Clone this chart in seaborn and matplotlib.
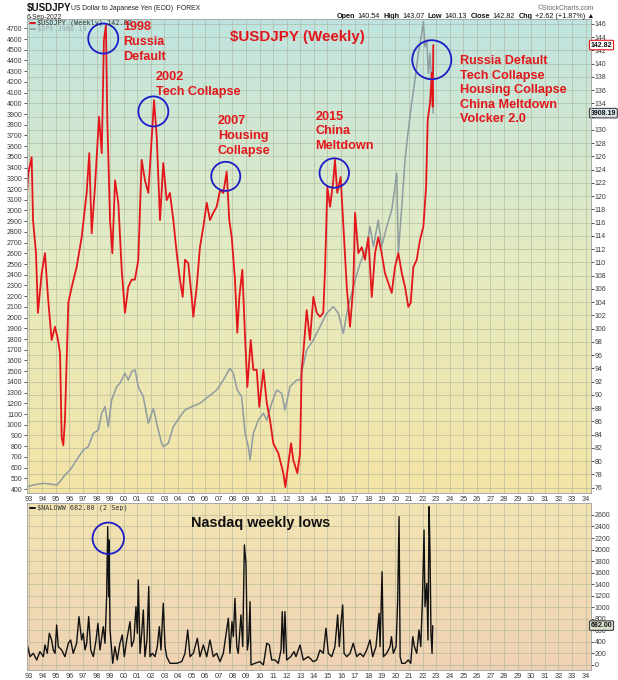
import numpy as np
import pandas as pd
import seaborn as sns
import matplotlib.pyplot as plt
import matplotlib.transforms as mtransforms
from matplotlib.lines import Line2D
from matplotlib.colors import LinearSegmentedColormap

# $USDJPY weekly close (decimal year, yen)
jpy_year = [
    1992.85, 1992.97, 1993.22, 1993.32, 1993.54, 1993.68, 1993.96, 1994.20, 1994.42, 1994.69,
    1994.94, 1995.16, 1995.31, 1995.43, 1995.55, 1995.67, 1995.92, 1996.17, 1996.53, 1996.90,
    1997.27, 1997.46, 1997.64, 1997.88, 1998.18, 1998.38, 1998.54, 1998.69, 1998.79, 1998.99,
    1999.16, 1999.36, 1999.60, 1999.85, 2000.09, 2000.33, 2000.58, 2000.82, 2001.07, 2001.32,
    2001.56, 2001.81, 2002.06, 2002.23, 2002.43, 2002.67, 2002.91, 2003.16, 2003.40, 2003.65,
    2003.90, 2004.14, 2004.34, 2004.51, 2004.75, 2005.00, 2005.12, 2005.37, 2005.61, 2005.86,
    2006.11, 2006.35, 2006.59, 2006.84, 2007.09, 2007.33, 2007.58, 2007.77, 2007.95, 2008.19,
    2008.36, 2008.51, 2008.73, 2008.93, 2009.10, 2009.35, 2009.54, 2009.79, 2009.98, 2010.28,
    2010.53, 2010.77, 2011.01, 2011.38, 2011.75, 2011.90, 2012.12, 2012.32, 2012.48, 2012.78,
    2012.98, 2013.10, 2013.22, 2013.47, 2013.71, 2013.96, 2014.21, 2014.45, 2014.69, 2014.82,
    2014.99, 2015.19, 2015.43, 2015.55, 2015.72, 2015.97, 2016.17, 2016.42, 2016.66, 2016.90,
    2017.03, 2017.27, 2017.52, 2017.76, 2018.01, 2018.26, 2018.50, 2018.74, 2018.99, 2019.23,
    2019.48, 2019.73, 2019.97, 2020.22, 2020.47, 2020.71, 2020.95, 2021.13, 2021.32, 2021.57,
    2021.81, 2022.06, 2022.26, 2022.38, 2022.55, 2022.68, 2022.75, 2022.79,
]
jpy_value = [
    119.4, 123.5, 125.9, 116.4, 111.4, 102.4, 108.4, 111.4, 104.8, 98.3,
    100.3, 98.3, 96.3, 83.6, 82.4, 86.2, 103.9, 106.3, 109.3, 113.8,
    120.5, 126.5, 114.4, 121.4, 132.0, 126.5, 143.6, 145.8, 131.5, 116.4,
    111.4, 122.4, 119.0, 108.9, 102.4, 106.3, 107.4, 107.4, 110.4, 125.5,
    122.4, 120.5, 128.9, 134.5, 128.9, 116.4, 125.0, 119.4, 120.5, 116.4,
    111.4, 107.4, 104.8, 110.4, 109.9, 104.8, 101.8, 106.3, 112.3, 115.4,
    119.0, 116.4, 117.5, 118.4, 120.9, 120.5, 123.7, 116.4, 113.8, 107.4,
    99.4, 104.8, 108.9, 98.8, 91.2, 98.3, 93.8, 93.8, 88.2, 93.8,
    88.8, 86.2, 82.7, 81.2, 78.2, 76.1, 79.7, 82.7, 80.2, 78.2,
    81.2, 93.8, 96.3, 102.8, 98.3, 104.8, 102.4, 101.8, 102.4, 108.9,
    121.4, 118.4, 122.4, 125.5, 120.5, 122.9, 115.4, 106.3, 100.3, 106.3,
    117.5, 111.4, 112.3, 110.4, 113.8, 104.8, 111.4, 113.8, 111.4, 108.4,
    106.9, 105.4, 109.3, 111.4, 108.4, 106.3, 103.3, 103.9, 109.3, 110.4,
    113.4, 115.4, 121.4, 131.5, 134.1, 138.6, 133.5, 142.82,
]

# $SPX (left axis)
spx_year = [
    1992.85, 1993.32, 1994.05, 1994.57, 1995.06, 1995.30, 1995.67, 1996.04, 1996.53, 1997.02,
    1997.39, 1997.76, 1998.13, 1998.38, 1998.62, 1998.86, 1999.11, 1999.48, 1999.72, 2000.09,
    2000.33, 2000.58, 2000.83, 2001.07, 2001.44, 2001.81, 2002.18, 2002.54, 2002.79, 2002.91,
    2003.28, 2003.65, 2004.14, 2004.51, 2005.00, 2005.61, 2006.23, 2006.84, 2007.33, 2007.82,
    2008.07, 2008.36, 2008.68, 2008.93, 2009.17, 2009.30, 2009.54, 2009.91, 2010.28, 2010.53,
    2010.89, 2011.26, 2011.63, 2011.87, 2012.24, 2012.73, 2012.98, 2013.47, 2013.96, 2014.45,
    2014.94, 2015.43, 2015.80, 2016.17, 2016.42, 2016.90, 2017.40, 2017.89, 2018.13, 2018.38,
    2018.74, 2018.99, 2019.36, 2019.73, 2020.10, 2020.22, 2020.47, 2020.71, 2020.95, 2021.20,
    2021.44, 2021.69, 2021.94, 2022.06, 2022.18, 2022.31, 2022.43, 2022.55, 2022.68, 2022.79,
]
spx_value = [
    420, 437, 453, 447, 437, 468, 531, 577, 671, 764,
    795, 920, 951, 1107, 1168, 982, 1231, 1355, 1387, 1480,
    1417, 1495, 1511, 1355, 1262, 1013, 1153, 951, 827, 795,
    827, 982, 1075, 1137, 1168, 1200, 1262, 1324, 1417, 1527,
    1480, 1324, 1262, 920, 795, 671, 920, 1044, 1107, 1044,
    1200, 1324, 1293, 1137, 1355, 1417, 1417, 1697, 1791, 1915,
    2040, 2102, 2040, 1853, 2040, 2288, 2507, 2662, 2849, 2662,
    2911, 2662, 2849, 3004, 3347, 2600, 3035, 3471, 3751, 4000,
    4218, 4467, 4653, 4762, 4528, 4591, 4280, 4467, 4155, 3908.19,
]

# $NALOWW - Nasdaq new weekly lows (lower panel)
nalow_year = [
    1992.90, 1993.10, 1993.34, 1993.59, 1993.83, 1994.08, 1994.20, 1994.37, 1994.52, 1994.69,
    1994.81, 1994.94, 1995.06, 1995.18, 1995.43, 1995.67, 1995.92, 1996.09, 1996.28, 1996.53,
    1996.70, 1996.90, 1997.02, 1997.15, 1997.27, 1997.42, 1997.57, 1997.76, 1997.96, 1998.10,
    1998.25, 1998.49, 1998.62, 1998.74, 1998.82, 1998.89, 1998.91, 1998.99, 1999.19, 1999.35,
    1999.52, 1999.72, 1999.89, 2000.04, 2000.22, 2000.46, 2000.58, 2000.75, 2000.90, 2001.00,
    2001.07, 2001.20, 2001.32, 2001.44, 2001.56, 2001.71, 2001.84, 2001.93, 2002.10, 2002.30,
    2002.47, 2002.62, 2002.74, 2002.91, 2003.04, 2003.16, 2003.40, 2003.90, 2004.27, 2004.51,
    2004.71, 2004.88, 2005.12, 2005.42, 2005.61, 2005.86, 2006.11, 2006.35, 2006.59, 2006.84,
    2007.09, 2007.33, 2007.70, 2007.82, 2007.97, 2008.07, 2008.19, 2008.32, 2008.43, 2008.63,
    2008.76, 2008.88, 2009.00, 2009.10, 2009.20, 2009.30, 2009.37, 2009.66, 2010.03, 2010.28,
    2010.53, 2010.72, 2010.89, 2011.14, 2011.38, 2011.58, 2011.67, 2011.78, 2011.87, 2012.00,
    2012.29, 2012.54, 2012.68, 2012.98, 2013.22, 2013.59, 2013.96, 2014.21, 2014.45, 2014.69,
    2014.89, 2015.06, 2015.31, 2015.55, 2015.75, 2015.87, 2015.97, 2016.12, 2016.22, 2016.42,
    2016.66, 2016.90, 2017.15, 2017.40, 2017.64, 2017.89, 2018.13, 2018.33, 2018.57, 2018.80,
    2018.87, 2019.02, 2019.12, 2019.36, 2019.61, 2019.71, 2019.85, 2020.05, 2020.17, 2020.27,
    2020.35, 2020.47, 2020.71, 2020.95, 2021.13, 2021.28, 2021.40, 2021.57, 2021.74, 2021.87,
    2021.99, 2022.11, 2022.18, 2022.31, 2022.40, 2022.48, 2022.55, 2022.62, 2022.70, 2022.75,
]
nalow_value = [
    347, 144, 202, 87, 231, 144, 347, 202, 549, 433,
    260, 202, 693, 318, 260, 144, 376, 433, 202, 376,
    837, 433, 549, 260, 376, 837, 260, 144, 433, 722,
    260, 664, 376, 1184, 2397, 1184, 2166, 607, 29, 318,
    87, 376, 520, 144, 433, 751, 318, 433, 1011, 549,
    1473, 202, 549, 953, 144, 433, 1357, 144, 202, 144,
    318, 664, 260, 1069, 318, 144, 29, 29, 58, 202,
    607, 144, 202, 462, 144, 347, 144, 433, 144, 202,
    58, 202, 809, 202, 751, 491, 1156, 318, 202, 867,
    318, 2080, 1762, 260, 433, 1097, 0, 29, 58, 0,
    376, 347, 87, 87, 29, 260, 924, 202, 924, 87,
    144, 231, 144, 347, 87, 144, 58, 87, 260, 202,
    636, 202, 144, 318, 867, 318, 664, 1040, 202, 144,
    202, 376, 144, 202, 144, 260, 433, 144, 318, 895,
    318, 1617, 144, 202, 318, 491, 202, 318, 1127, 2570,
    144, 29, 29, 87, 29, 491, 318, 202, 607, 318,
    1127, 2340, 1011, 1416, 433, 2743, 1936, 549, 202, 682,
]

years = list(range(1993, 2035))
year_labels = [f"{y % 100:02d}" for y in years]

# blue rings: (year, value, ring diameter in pt)
ring_year = [1998.49, 2002.18, 2007.51, 2015.50, 2022.68]
ring_value = [143.8, 132.8, 123.0, 123.5, 140.6]
ring_size = [21.6, 21.6, 20.9, 21.2, 28.1]
low_ring = (1998.86, 2196, 22.6)

W, H = 618, 680
X0, X1 = 1992.84, 2034.38
SPX_LIM = (362.7, 4786.8)
JPY_LIM = (75.2, 146.75)
NAL_LIM = (-87, 2807)

RED = "#e3161b"
BLUE = "#1c1cc8"
TICK = "#3a3a3a"

sns.set_theme(style="white")
plt.rcParams["font.family"] = ["Liberation Sans", "DejaVu Sans"]


def frac(x, y):
    return x / W, 1 - y / H


def rect(left, top, right, bottom):
    return [left / W, 1 - bottom / H, (right - left) / W, (bottom - top) / H]


fig = plt.figure(figsize=(W / 100, H / 100), dpi=100)
top_box = rect(26.5, 19, 590.7, 493)
bot_box = rect(26.5, 503, 590.7, 670)


def background(box, colors, ylim, yticks):
    bg = fig.add_axes(box, zorder=0)
    cmap = LinearSegmentedColormap.from_list("panel", colors)
    bg.imshow(np.linspace(0, 1, 256).reshape(-1, 1), cmap=cmap, aspect="auto",
              extent=[X0, X1, ylim[0], ylim[1]], origin="upper")
    bg.set_xlim(X0, X1)
    bg.set_ylim(*ylim)
    bg.set_xticks(years)
    bg.set_yticks(yticks)
    bg.grid(True, color="#aeb59c", lw=0.55, alpha=0.75)
    bg.tick_params(length=0, labelbottom=False, labelleft=False)
    for s in bg.spines.values():
        s.set_visible(False)
    return bg


background(top_box, ["#bfe4e0", "#e4ebc2", "#f4e4a6"], JPY_LIM, range(76, 147, 2))
background(bot_box, ["#f3e5b2", "#efd2b4"], NAL_LIM, range(0, 2601, 200))


def style_frame(axis):
    axis.patch.set_visible(False)
    for s in axis.spines.values():
        s.set_color("#a9a9a9")
        s.set_linewidth(0.7)


# --- top panel: SPX on the left, USDJPY on the right
ax = fig.add_axes(top_box, zorder=1)
style_frame(ax)
spx = pd.DataFrame({"year": spx_year, "close": spx_value})
sns.lineplot(data=spx, x="year", y="close", ax=ax, color="#8f9ca0", lw=1.1,
             sort=False, estimator=None)
ax.set_xlim(X0, X1)
ax.set_ylim(*SPX_LIM)
ax.set_yticks(range(400, 4701, 100))
ax.set_xticks(years)
ax.set_xticklabels(year_labels)
ax.set_xlabel("")
ax.set_ylabel("")
ax.tick_params(axis="x", length=0, pad=2, labelsize=5.3, colors=TICK)
ax.tick_params(axis="y", left=True, length=2, width=0.6, pad=1, labelsize=5.0, colors=TICK)

axr = ax.twinx()
axr.set_zorder(2)
style_frame(axr)
jpy = pd.DataFrame({"year": jpy_year, "close": jpy_value})
sns.lineplot(data=jpy, x="year", y="close", ax=axr, color=RED, lw=1.3,
             sort=False, estimator=None)
axr.scatter(ring_year, ring_value, s=np.square(ring_size), facecolors="none",
            edgecolors=BLUE, linewidths=1.3, clip_on=False, zorder=5)
axr.set_xlim(X0, X1)
axr.set_ylim(*JPY_LIM)
jpy_ticks = list(range(76, 147, 2))
axr.set_yticks(jpy_ticks)
# the SPX price tag sits on top of the 132 label, as on the original
axr.set_yticklabels(["" if t == 132 else str(t) for t in jpy_ticks])
axr.set_ylabel("")
axr.tick_params(axis="y", right=True, length=2, width=0.6, pad=1, labelsize=5.0, colors=TICK)

# --- bottom panel: Nasdaq weekly lows
axb = fig.add_axes(bot_box, zorder=1)
style_frame(axb)
nal = pd.DataFrame({"year": nalow_year, "lows": nalow_value})
sns.lineplot(data=nal, x="year", y="lows", ax=axb, color="#111111", lw=1.0,
             sort=False, estimator=None)
axb.scatter([low_ring[0]], [low_ring[1]], s=low_ring[2] ** 2, facecolors="none",
            edgecolors=BLUE, linewidths=1.3, clip_on=False, zorder=5)
axb.set_xlim(X0, X1)
axb.set_ylim(*NAL_LIM)
axb.yaxis.tick_right()
axb.set_yticks(range(0, 2601, 200))
axb.set_xticks(years)
axb.set_xticklabels(year_labels)
axb.set_xlabel("")
axb.set_ylabel("")
axb.tick_params(axis="x", length=0, pad=2, labelsize=5.3, colors=TICK)
axb.tick_params(axis="y", right=True, left=False, length=2, width=0.6, pad=1,
                labelsize=5.0, colors=TICK)


def price_tag(axis, value, text, face, edge):
    trans = mtransforms.blended_transform_factory(axis.transAxes, axis.transData)
    axis.text(1.0, value, text, transform=trans, ha="left", va="center", fontsize=5.0,
              fontweight="bold", color="#111111", clip_on=False, zorder=6,
              bbox=dict(boxstyle="round,pad=0.18", fc=face, ec=edge, lw=0.8))


price_tag(axr, 142.82, "142.82", "white", RED)
price_tag(ax, 3908.19, "3908.19", "#dbe6ec", "#404040")
price_tag(axb, 682, "682.00", "#d9e0cf", "#404040")


# --- legends inside panels
def legend_row(x, y, color, text, text_color):
    fig.add_artist(Line2D([x / W, (x + 5) / W], [1 - y / H] * 2, color=color, lw=1.4,
                          transform=fig.transFigure))
    fig.text(*frac(x + 7, y), text, fontsize=4.9, family="DejaVu Sans Mono",
             color=text_color, va="center")


legend_row(30, 23, RED, "\\$USDJPY (Weekly) 142.82", "#333333")
legend_row(30, 29, "#9aa5a7", "\\$SPX 3908.19", "#9aa5a7")
legend_row(30, 508, "#111111", "\\$NALOWW 682.00 (2 Sep)", "#333333")

# --- annotations
notes = [
    ((123, 21.5), "1998\nRussia\nDefault"),
    ((155.5, 71.5), "2002\nTech Collapse"),
    ((218, 115.5), "2007\nHousing\nCollapse"),
    ((315.5, 110.5), "2015\nChina\nMeltdown"),
    ((459.5, 55), "Russia Default\nTech Collapse\nHousing Collapse\nChina Meltdown\nVolcker 2.0"),
]
for (x, y), text in notes:
    fig.text(*frac(x, y), text, color=RED, fontsize=9.1, fontweight="bold",
             va="top", ha="left", linespacing=1.28)

fig.text(*frac(230, 30), "\\$USDJPY (Weekly)", color=RED, fontsize=10.9,
         fontweight="bold", va="top")
fig.text(*frac(191, 515.5), "Nasdaq weekly lows", color="#111111", fontsize=10.4,
         fontweight="bold", va="top")

# --- header
fig.text(*frac(27, 3), "\\$USDJPY", fontsize=7.0, fontweight="bold", va="top", color="#111111")
fig.text(*frac(71, 4.5), "US Dollar to Japanese Yen (EOD)  FOREX", fontsize=4.9,
         va="top", color="#222222")
fig.text(*frac(27, 14), "6-Sep-2022", fontsize=4.9, va="top", color="#222222")
fig.text(*frac(594, 4.5), "©StockCharts.com", fontsize=4.9, va="top", ha="right",
         color="#666666")

# OHLC row, chained from the right edge leftwards
ohlc = [("Open", "140.54"), ("High", "143.07"), ("Low", "140.13"),
        ("Close", "142.82"), ("Chg", "+2.62 (+1.87%) ▲")]
pieces = []
for label, value in ohlc:
    pieces += [(label, "bold"), (value, "normal")]
nxt = None
for text, weight in reversed(pieces):
    if nxt is None:
        nxt = fig.text(*frac(594, 20.5), text, fontsize=5.2, fontweight=weight,
                       va="bottom", ha="right", color="#111111")
    else:
        gap = -1.6 if weight == "bold" else -2.6
        nxt = ax.annotate(text, xy=(0, 0), xycoords=nxt, xytext=(gap, 0),
                          textcoords="offset points", va="bottom", ha="right",
                          fontsize=5.2, fontweight=weight, color="#111111",
                          annotation_clip=False)

fig.savefig("out.png", dpi=100, facecolor="white")
